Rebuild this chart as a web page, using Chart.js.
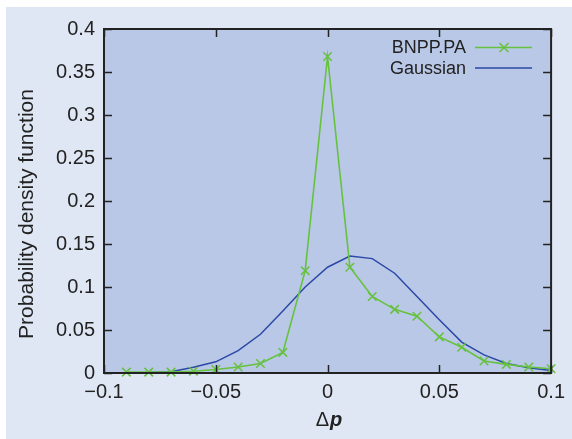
<!DOCTYPE html>
<html>
<head>
<meta charset="utf-8">
<script src="https://cdn.jsdelivr.net/npm/chart.js@4"></script>
<style>
html,body{margin:0;padding:0;background:#fff;overflow:hidden;}
canvas{display:block;}
</style>
</head>
<body>
<canvas id="c" width="572" height="439"></canvas>
<script>
// ---- data ----
const xValues = [-0.09,-0.08,-0.07,-0.06,-0.05,-0.04,-0.03,-0.02,-0.01,0,0.01,0.02,0.03,0.04,0.05,0.06,0.07,0.08,0.09,0.1];
const bnppValues = [0.001,0.001,0.001,0.002,0.004,0.007,0.011,0.024,0.119,0.368,0.123,0.089,0.074,0.066,0.042,0.030,0.014,0.010,0.007,0.005];
const gaussValues = [0.0002,0.0005,0.0015,0.0066,0.013,0.026,0.045,0.072,0.100,0.123,0.136,0.133,0.116,0.089,0.062,0.036,0.021,0.011,0.006,0.003];
const seriesNames = ["BNPP.PA","Gaussian"];
const xTicks = [-0.1,-0.05,0,0.05,0.1];
const yTicks = [0,0.05,0.1,0.15,0.2,0.25,0.3,0.35,0.4];
const yTitle = "Probability density function";
const xTitleParts = ["\u0394","p"];

const GREEN = "#66c23e";
const BLUE = "#2b48a6";
const PANEL = "#e0e7f4";
const PLOTBG = "#b9c8e6";
const INK = "#222222";
const FONT = "'Liberation Sans', Arial, Helvetica, sans-serif";

function fmt(v){
  let s = String(Number(v.toFixed(3)));
  return s.replace('-', '\u2212');
}

const decor = {
  id: 'decor',
  beforeDraw(chart){
    const ctx = chart.ctx;
    ctx.save();
    ctx.fillStyle = PANEL;
    ctx.fillRect(6, 7, chart.width - 6, chart.height - 7);
    const a = chart.chartArea;
    ctx.fillStyle = PLOTBG;
    ctx.fillRect(a.left, a.top, a.right - a.left, a.bottom - a.top);
    ctx.restore();
  },
  afterDatasetsDraw(chart){
    const ctx = chart.ctx;
    const a = chart.chartArea;
    const xs = chart.scales.x, ys = chart.scales.y;
    ctx.save();
    ctx.strokeStyle = INK;
    ctx.lineWidth = 1.5;
    // ticks (inward, mirrored)
    const TL = 8;
    ctx.beginPath();
    xTicks.forEach(v => {
      const px = Math.round(xs.getPixelForValue(v)) + 0.5;
      ctx.moveTo(px, a.bottom); ctx.lineTo(px, a.bottom - TL);
      ctx.moveTo(px, a.top); ctx.lineTo(px, a.top + TL);
    });
    yTicks.forEach(v => {
      const py = Math.round(ys.getPixelForValue(v)) + 0.5;
      ctx.moveTo(a.left, py); ctx.lineTo(a.left + TL, py);
      ctx.moveTo(a.right, py); ctx.lineTo(a.right - TL, py);
    });
    ctx.stroke();
    // frame
    ctx.lineWidth = 2;
    ctx.strokeRect(a.left, a.top, a.right - a.left, a.bottom - a.top);
    ctx.restore();
  },
  afterDraw(chart){
    const ctx = chart.ctx;
    const a = chart.chartArea;
    ctx.save();
    ctx.fillStyle = INK;
    // y title
    ctx.save();
    ctx.translate(27, 214);
    ctx.rotate(-Math.PI/2);
    ctx.font = "21px " + FONT;
    ctx.textAlign = 'center';
    ctx.textBaseline = 'middle';
    ctx.fillText(yTitle, 0, 0);
    ctx.restore();
    // x title
    const f1 = "20px " + FONT, f2 = "italic bold 20px " + FONT;
    ctx.font = f1; const w1 = ctx.measureText(xTitleParts[0]).width;
    ctx.font = f2; const w2 = ctx.measureText(xTitleParts[1]).width;
    const cx = (a.left + a.right)/2 + 1;
    let sx = cx - (w1 + w2)/2;
    ctx.textBaseline = 'alphabetic';
    ctx.textAlign = 'left';
    ctx.font = f1; ctx.fillText(xTitleParts[0], sx, 426);
    ctx.font = f2; ctx.fillText(xTitleParts[1], sx + w1 + 1, 426);
    // legend
    ctx.font = "18px " + FONT;
    ctx.textAlign = 'right';
    ctx.textBaseline = 'middle';
    const rows = [47.5, 68];
    chart.data.datasets.forEach((ds, i) => {
      const y = rows[i];
      ctx.fillStyle = INK;
      ctx.fillText(ds.label, 466, y + 1);
      ctx.strokeStyle = ds.borderColor;
      ctx.lineWidth = ds.borderWidth;
      ctx.beginPath(); ctx.moveTo(475, y); ctx.lineTo(532, y); ctx.stroke();
      if (ds.pointRadius > 0) {
        const r = 4.5, mx = 504;
        ctx.lineWidth = 1.5;
        ctx.beginPath();
        ctx.moveTo(mx - r, y - r); ctx.lineTo(mx + r, y + r);
        ctx.moveTo(mx - r, y + r); ctx.lineTo(mx + r, y - r);
        ctx.stroke();
      }
    });
    ctx.restore();
  }
};

const chart = new Chart(document.getElementById('c'), {
  type: 'line',
  data: {
    datasets: [
      {
        label: seriesNames[0],
        data: xValues.map((x, i) => ({x: x, y: bnppValues[i]})),
        borderColor: GREEN,
        backgroundColor: GREEN,
        borderWidth: 1.6,
        pointStyle: 'crossRot',
        pointRadius: 6,
        pointBorderWidth: 1.5,
        pointHoverRadius: 6,
        tension: 0,
        fill: false,
        clip: 10,
        order: 1
      },
      {
        label: seriesNames[1],
        data: xValues.map((x, i) => ({x: x, y: gaussValues[i]})),
        borderColor: BLUE,
        backgroundColor: BLUE,
        borderWidth: 1.5,
        pointRadius: 0,
        tension: 0,
        fill: false,
        clip: 10,
        order: 2
      }
    ]
  },
  options: {
    responsive: false,
    animation: false,
    devicePixelRatio: 1,
    layout: { padding: { top: 29, right: 16, left: 0, bottom: 0 } },
    plugins: { legend: { display: false }, tooltip: { enabled: false } },
    scales: {
      x: {
        type: 'linear',
        min: -0.1, max: 0.1,
        afterBuildTicks(scale){ scale.ticks = xTicks.map(v => ({value: v})); },
        afterFit(scale){ scale.height = 66; },
        grid: { display: false, drawTicks: false },
        border: { display: false },
        ticks: {
          font: { size: 20, family: FONT },
          color: INK,
          padding: 7,
          maxRotation: 0,
          autoSkip: false,
          callback: v => fmt(v)
        }
      },
      y: {
        type: 'linear',
        min: 0, max: 0.4,
        afterBuildTicks(scale){ scale.ticks = yTicks.map(v => ({value: v})); },
        afterFit(scale){ scale.width = 104; },
        grid: { display: false, drawTicks: false },
        border: { display: false },
        ticks: {
          font: { size: 20, family: FONT },
          color: INK,
          padding: 9,
          autoSkip: false,
          callback: v => fmt(v)
        }
      }
    }
  },
  plugins: [decor]
});
</script>
</body>
</html>
